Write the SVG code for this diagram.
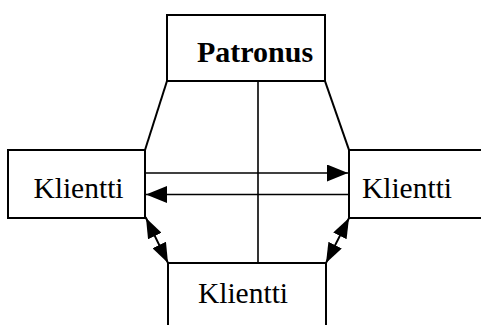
<svg xmlns="http://www.w3.org/2000/svg" width="481" height="325" viewBox="0 0 481 325">
<style>
.ln{fill:none;stroke:#000;stroke-width:2;stroke-linecap:square}
.thin{fill:none;stroke:#000;stroke-width:1.6}
.t{font-family:"Liberation Serif","Times New Roman",serif;font-size:29.5px;fill:#000;text-anchor:middle}
.b{font-weight:bold;font-size:30px}
</style>
<defs>
<marker id="ah" viewBox="0 0 21 17" refX="21" refY="8.5" markerWidth="21" markerHeight="17" markerUnits="userSpaceOnUse" orient="auto-start-reverse">
<path d="M0,0 L21,8.5 L0,17 Z" fill="#000"/>
</marker>
<marker id="ahs" viewBox="0 0 20 15" refX="20" refY="7.5" markerWidth="20" markerHeight="15" markerUnits="userSpaceOnUse" orient="auto-start-reverse">
<path d="M0,0 L20,7.5 L0,15 Z" fill="#000"/>
</marker>
</defs>
<rect width="481" height="325" fill="#fff"/>
<g id="connectors">
<path class="ln" d="M167,81 L145,150"/>
<path class="ln" d="M325,81 L349,150"/>
<path class="thin" d="M258,81 L258,263"/>
<path class="thin" d="M145,173 L348,173" marker-end="url(#ah)"/>
<path class="thin" d="M349,194.5 L146,194.5" marker-end="url(#ah)"/>
<path class="ln" d="M146,218 L168,263" marker-start="url(#ahs)" marker-end="url(#ahs)"/>
<path class="ln" d="M349,218 L326,263" marker-start="url(#ahs)" marker-end="url(#ahs)"/>
</g>
<g id="patronus">
<rect class="ln" x="167" y="15" width="158" height="66"/>
<text class="t b" x="255" y="62">Patronus</text>
</g>
<g id="klientti-left">
<rect class="ln" x="8" y="150" width="137" height="68"/>
<text class="t" x="78.5" y="197.5">Klientti</text>
</g>
<g id="klientti-right">
<path class="ln" d="M482,150 L349,150 L349,218 L482,218"/>
<text class="t" x="407" y="197.5">Klientti</text>
</g>
<g id="klientti-bottom">
<path class="ln" d="M168,326 L168,263 L326,263 L326,326"/>
<text class="t" x="243" y="302.5">Klientti</text>
</g>
</svg>
